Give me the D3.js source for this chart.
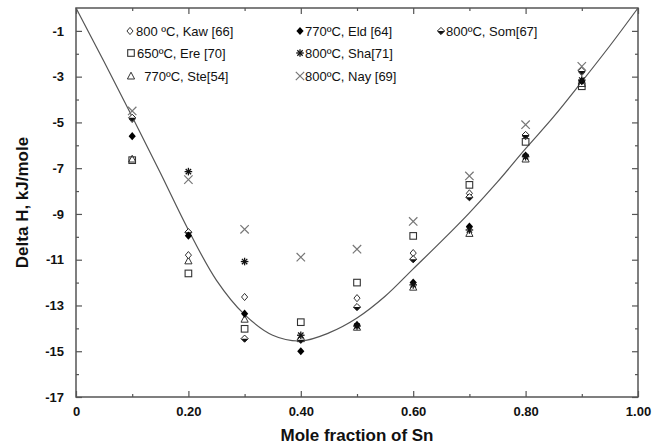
<!DOCTYPE html>
<html><head><meta charset="utf-8">
<script src="https://cdn.jsdelivr.net/npm/d3@7"></script>
<style>html,body{margin:0;padding:0;background:#fff}svg{display:block}</style>
</head><body>
<svg id="c" width="654" height="447"></svg>
<script>
const xVals = [0.1,0.2,0.3,0.4,0.5,0.6,0.7,0.8,0.9];
const kaw = [-4.85,-10.8,-12.63,-14.45,-12.68,-10.71,-8.1,-5.6,-2.8];
const eld = [-5.6,-9.95,-13.36,-15.0,-13.85,-12.0,-9.55,-6.45,-3.2];
const som = [-4.8,-9.8,-14.45,-14.5,-13.07,-10.98,-8.27,-5.55,-2.75];
const ere = [-6.65,-11.6,-14.02,-13.73,-12.0,-9.96,-7.73,-5.85,-3.42];
const sha = [null,-7.15,-11.08,-14.3,-13.9,-12.1,-9.7,-6.5,-3.15];
const ste = [-6.6,-11.05,-13.6,-14.45,-13.95,-12.2,-9.85,-6.6,-3.3];
const nay = [-4.5,-7.5,-9.67,-10.89,-10.54,-9.33,-7.34,-5.1,-2.55];
const curveX = [0,0.05,0.1,0.15,0.2,0.25,0.3,0.35,0.4,0.45,0.5,0.55,0.6,0.65,0.7,0.75,0.8,0.85,0.9,0.95,1.0];
const curveY = [0,-2.35,-4.75,-7.2,-9.7,-11.9,-13.4,-14.3,-14.55,-14.2,-13.55,-12.6,-11.4,-10.2,-8.95,-7.6,-6.15,-4.75,-3.22,-1.65,0];
const xTickLabels = ["0","0.20","0.40","0.60","0.80","1.00"];
const yTickLabels = ["-1","-3","-5","-7","-9","-11","-13","-15","-17"];
const legendLabels = ["800 ºC, Kaw [66]","650ºC, Ere [70]","  770ºC, Ste[54]","770ºC, Eld [64]","800ºC, Sha[71]","800ºC, Nay [69]","800ºC, Som[67]"];

const svg = d3.select("#c");
const L=76,R=638,T=8,B=397;
const x = d3.scaleLinear().domain([0,1]).range([L,R]);
const y = d3.scaleLinear().domain([-17,0]).range([B,T]);
const axisColor="#555";

function marker(g, type, cx, cy){
  const s=3.6;
  if(type==="kaw"){
    g.append("path").attr("d",`M${cx},${cy-s}L${cx+s*0.85},${cy}L${cx},${cy+s}L${cx-s*0.85},${cy}Z`).attr("fill","#fff").attr("stroke","#333").attr("stroke-width",1);
  } else if(type==="eld"){
    g.append("path").attr("d",`M${cx},${cy-s-0.5}L${cx+s},${cy}L${cx},${cy+s+0.5}L${cx-s},${cy}Z`).attr("fill","#000");
  } else if(type==="som"){
    g.append("path").attr("d",`M${cx},${cy-s}L${cx+s},${cy}L${cx},${cy+s}L${cx-s},${cy}Z`).attr("fill","#fff").attr("stroke","#222").attr("stroke-width",1);
    g.append("path").attr("d",`M${cx-s},${cy}L${cx+s},${cy}L${cx},${cy+s}Z`).attr("fill","#111");
  } else if(type==="ere"){
    g.append("rect").attr("x",cx-3.3).attr("y",cy-3.3).attr("width",6.6).attr("height",6.6).attr("fill","none").attr("stroke","#333").attr("stroke-width",1.1);
  } else if(type==="sha"){
    const r=3.8;
    for(let i=0;i<4;i++){const a=i*Math.PI/4;
      g.append("line").attr("x1",cx-r*Math.cos(a)).attr("y1",cy-r*Math.sin(a)).attr("x2",cx+r*Math.cos(a)).attr("y2",cy+r*Math.sin(a)).attr("stroke","#111").attr("stroke-width",1.3);}
  } else if(type==="ste"){
    g.append("path").attr("d",`M${cx},${cy-3.8}L${cx+3.6},${cy+3}L${cx-3.6},${cy+3}Z`).attr("fill","#fff").attr("stroke","#333").attr("stroke-width",1);
  } else if(type==="nay"){
    const r=4.2;
    g.append("path").attr("d",`M${cx-r},${cy-r}L${cx+r},${cy+r}M${cx-r},${cy+r}L${cx+r},${cy-r}`).attr("stroke","#777").attr("stroke-width",1.2).attr("fill","none");
  }
}

svg.append("rect").attr("x",L).attr("y",T).attr("width",R-L).attr("height",B-T).attr("fill","none").attr("stroke",axisColor).attr("stroke-width",1.5);

const xMajor=d3.range(0,1.0001,0.2), xMinor=d3.range(0.1,1,0.2);
const yMajor=d3.range(-17,0,2), yMinor=d3.range(-16,0,2);
function styleAxis(g){g.select(".domain").remove();g.selectAll(".tick line").attr("stroke",axisColor).attr("stroke-width",1.2);}
const fmtX = d => xTickLabels[Math.round(d*5)];
const fmtY = d => yTickLabels[Math.round((-1-d)/2)];
svg.append("g").attr("transform",`translate(0,${B})`).call(d3.axisBottom(x).tickValues(xMajor).tickSize(-6).tickPadding(10).tickFormat(fmtX)).call(styleAxis)
  .selectAll("text").attr("font-family","Liberation Sans, Arial, sans-serif").attr("font-weight","bold").attr("font-size","13px").attr("fill","#111");
svg.append("g").attr("transform",`translate(0,${B})`).call(d3.axisBottom(x).tickValues(xMinor).tickSize(-3).tickFormat("")).call(styleAxis);
svg.append("g").attr("transform",`translate(0,${T})`).call(d3.axisTop(x).tickValues(xMajor).tickSize(-6).tickFormat("")).call(styleAxis);
svg.append("g").attr("transform",`translate(0,${T})`).call(d3.axisTop(x).tickValues(xMinor).tickSize(-3).tickFormat("")).call(styleAxis);
svg.append("g").attr("transform",`translate(${L},0)`).call(d3.axisLeft(y).tickValues(yMajor).tickSize(-6).tickPadding(12).tickFormat(fmtY)).call(styleAxis)
  .selectAll("text").attr("font-family","Liberation Sans, Arial, sans-serif").attr("font-weight","bold").attr("font-size","13px").attr("fill","#111");
svg.append("g").attr("transform",`translate(${L},0)`).call(d3.axisLeft(y).tickValues(yMinor).tickSize(-3).tickFormat("")).call(styleAxis);
svg.append("g").attr("transform",`translate(${R},0)`).call(d3.axisRight(y).tickValues(yMajor).tickSize(-6).tickFormat("")).call(styleAxis);
svg.append("g").attr("transform",`translate(${R},0)`).call(d3.axisRight(y).tickValues(yMinor).tickSize(-3).tickFormat("")).call(styleAxis);

svg.append("text").attr("x",(L+R)/2).attr("y",441).attr("text-anchor","middle").attr("font-family","Liberation Sans, Arial, sans-serif").attr("font-weight","bold").attr("font-size","17px").attr("fill","#111").text("Mole fraction of Sn");
svg.append("text").attr("transform",`translate(28,${(T+B)/2}) rotate(-90)`).attr("text-anchor","middle").attr("font-family","Liberation Sans, Arial, sans-serif").attr("font-weight","bold").attr("font-size","17px").attr("fill","#111").text("Delta H, kJ/mole");

const curvePts = curveX.map((d,i)=>[d,curveY[i]]);
svg.append("path").datum(curvePts).attr("d",d3.line().x(d=>x(d[0])).y(d=>y(d[1])).curve(d3.curveCatmullRom.alpha(0.5)))
  .attr("fill","none").attr("stroke","#555").attr("stroke-width",1.2);

const series=[["ste",ste],["ere",ere],["kaw",kaw],["som",som],["eld",eld],["sha",sha],["nay",nay]];
const pg=svg.append("g");
series.forEach(([t,vals])=>{vals.forEach((v,i)=>{if(v!==null) marker(pg,t,x(xVals[i]),y(v));});});

const legItems=[
  {t:"kaw",lab:legendLabels[0],mx:130,tx:136,cy:31},
  {t:"ere",lab:legendLabels[1],mx:131,tx:137,cy:53},
  {t:"ste",lab:legendLabels[2],mx:131,tx:137,cy:76},
  {t:"eld",lab:legendLabels[3],mx:300,tx:305,cy:31},
  {t:"sha",lab:legendLabels[4],mx:300,tx:305,cy:53},
  {t:"nay",lab:legendLabels[5],mx:300,tx:305,cy:76},
  {t:"som",lab:legendLabels[6],mx:441,tx:446,cy:31}
];
const lg=svg.append("g");
legItems.forEach(d=>{
  marker(lg,d.t,d.mx,d.cy);
  lg.append("text").attr("x",d.tx).attr("y",d.cy+5).attr("font-family","Liberation Sans, Arial, sans-serif").attr("font-size","13px").attr("fill","#111").attr("xml:space","preserve").style("white-space","pre").text(d.lab);
});
</script>
</body></html>
